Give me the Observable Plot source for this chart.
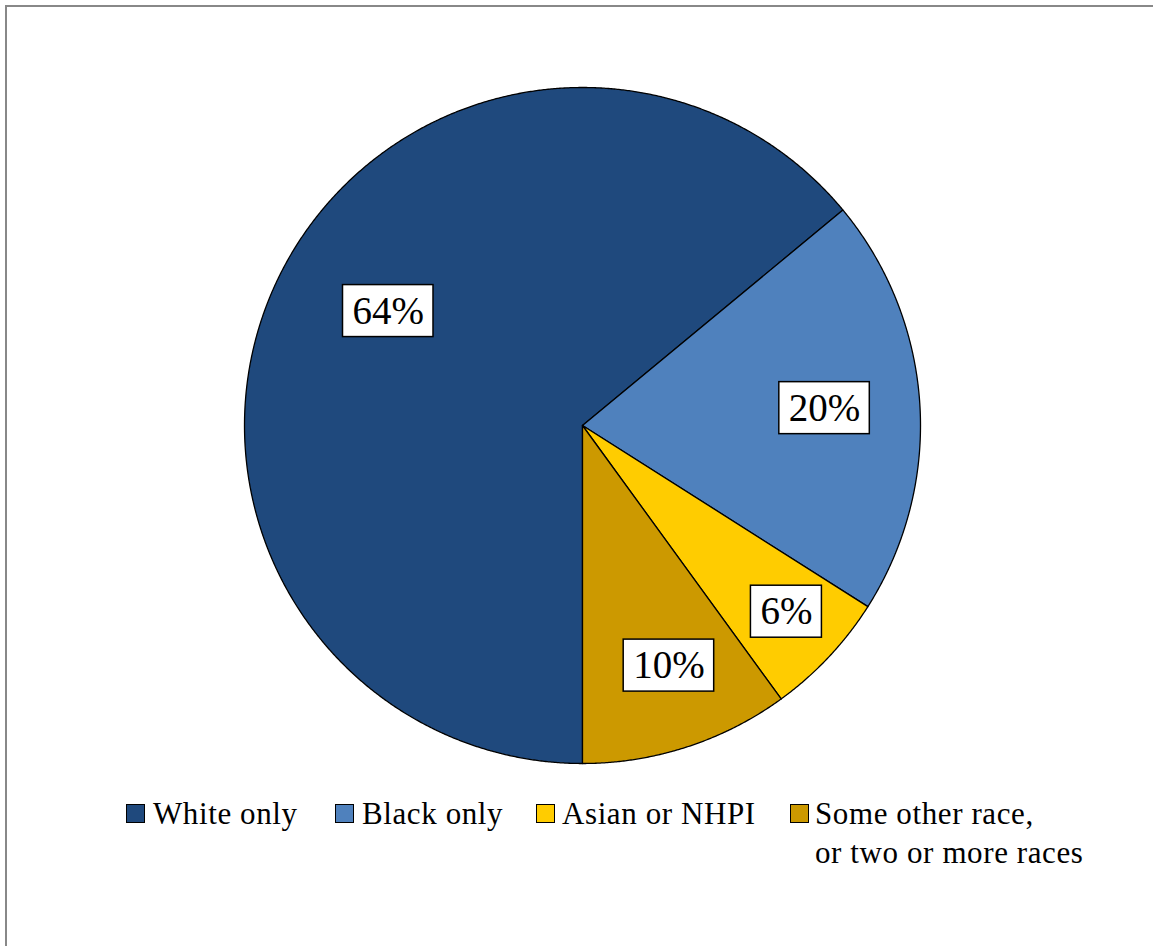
<!DOCTYPE html>
<html>
<head>
<meta charset="utf-8">
<script src="https://cdn.jsdelivr.net/npm/d3@7"></script>
<script src="https://cdn.jsdelivr.net/npm/@observablehq/plot@0.6"></script>
<style>
  html, body { margin: 0; padding: 0; background: #fff; overflow: hidden; }
  #wrap { position: relative; width: 1153px; height: 946px; overflow: hidden; font-family: "Liberation Serif", "Times New Roman", serif; }
  #frame { position: absolute; left: 5px; top: 5px; width: 1300px; height: 1100px; border-left: 2px solid #888; border-top: 2px solid #888; }
  #chart { position: absolute; left: 0; top: 0; }
  .lg { position: absolute; font-size: 31px; color: #000; line-height: 39px; white-space: nowrap; letter-spacing: 0.6px; }
  .sw { position: absolute; width: 17px; height: 17px; border: 1.5px solid #000; }
</style>
</head>
<body>
<div id="wrap">
  <div id="frame"></div>
  <div id="chart"></div>
  <div id="legend"></div>
</div>
<script>
// ---- data ----
const races = ["White only", "Black only", "Asian or NHPI", "Some other race,\nor two or more races"];
const shares = [64, 20, 6, 10];
const colors = ["#1F497D", "#4F81BD", "#FFCC00", "#CC9900"];
const labelTexts = ["64%", "20%", "6%", "10%"];

// ---- build slices with d3.pie (starts at 6 o'clock, clockwise) ----
const table = races.map((r, i) => ({race: r, value: shares[i], label: labelTexts[i]}));
const arcs = d3.pie().sort(null).value(d => d.value).startAngle(Math.PI).endAngle(3 * Math.PI)(table);

const pts = [];
arcs.forEach(a => {
  pts.push({race: a.data.race, x: 0, y: 0});
  const n = Math.max(2, Math.ceil((a.endAngle - a.startAngle) / (Math.PI / 720)));
  for (let k = 0; k <= n; k++) {
    const t = a.startAngle + (a.endAngle - a.startAngle) * k / n;
    pts.push({race: a.data.race, x: Math.sin(t), y: Math.cos(t)});
  }
});

// label placement (Excel best-fit style): radius fraction and angular nudge per slice
const labelRadius = [0.667, 0.718, 0.817, 0.755];
const labelNudge = [5.3, -0.5, -0.8, -1.8];
const R = 338; // px per unit
const fontLbl = 39;
const ctx = document.createElement("canvas").getContext("2d");
ctx.font = `${fontLbl}px "Liberation Serif"`;
const labels = arcs.map((a, i) => {
  const t = (a.startAngle + a.endAngle) / 2 + labelNudge[i] * Math.PI / 180;
  const r = labelRadius[i];
  const w = ctx.measureText(a.data.label).width + 19;
  const h = 52;
  const x = r * Math.sin(t), y = r * Math.cos(t);
  return {text: a.data.label, x, y, x1: x - w / 2 / R, x2: x + w / 2 / R, y1: y - h / 2 / R, y2: y + h / 2 / R};
});

const cx = 582, cy = 425;
const W = 1153, H = 790;
const plot = Plot.plot({
  width: W,
  height: H,
  marginLeft: cx - R,
  marginRight: W - (cx + R),
  marginTop: cy - R,
  marginBottom: H - (cy + R),
  x: {domain: [-1, 1], axis: null},
  y: {domain: [-1, 1], axis: null},
  color: {domain: races, range: colors, legend: false},
  style: {background: "transparent", overflow: "visible"},
  marks: [
    Plot.line(pts, {x: "x", y: "y", z: "race", fill: "race", stroke: "#000", strokeWidth: 1.3, curve: "linear-closed", strokeLinejoin: "round"}),
    Plot.rect(labels, {x1: "x1", x2: "x2", y1: "y1", y2: "y2", fill: "#fff", stroke: "#000", strokeWidth: 1.5}),
    Plot.text(labels, {x: "x", y: "y", text: "text", fontSize: fontLbl, fontFamily: "Liberation Serif", fill: "#000"})
  ]
});
document.getElementById("chart").appendChild(plot);

// ---- legend (below the chart) ----
const legend = document.getElementById("legend");
const swLeft = [126, 335, 536, 790];
const txLeft = [153, 362, 562, 815];
races.forEach((r, i) => {
  const sw = document.createElement("div");
  sw.className = "sw";
  sw.style.left = swLeft[i] + "px";
  sw.style.top = "804px";
  sw.style.background = colors[i];
  legend.appendChild(sw);
  const tx = document.createElement("div");
  tx.className = "lg";
  tx.style.left = txLeft[i] + "px";
  tx.style.top = "794px";
  tx.innerHTML = r.split("\n").join("<br>");
  legend.appendChild(tx);
});
</script>
</body>
</html>
